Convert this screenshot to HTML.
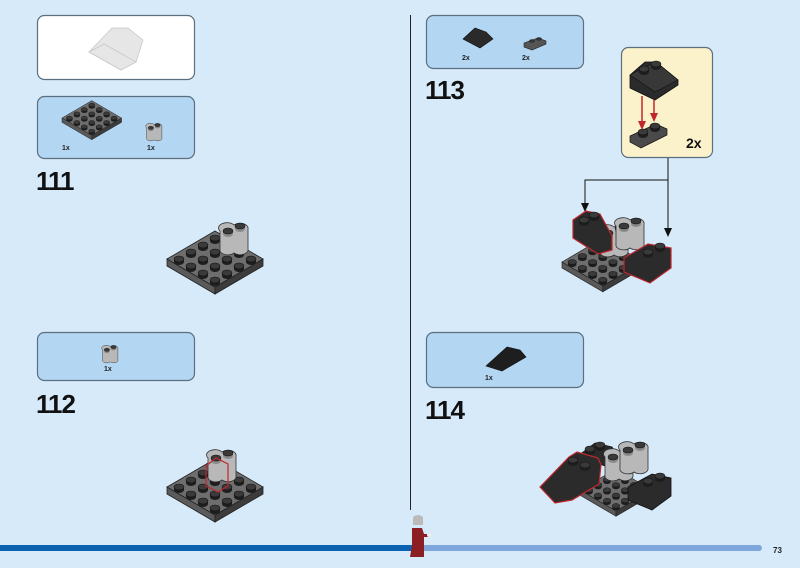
<!DOCTYPE html>
<html><head><meta charset="utf-8"><style>
html,body{margin:0;padding:0;background:#d6eaf9;}
svg{display:block;}
text{font-family:"Liberation Sans",sans-serif;}
</style></head><body>
<svg width="800" height="568" viewBox="0 0 800 568" xmlns="http://www.w3.org/2000/svg">
<defs>
  <g id="stud"><path d="M-5,0 v3 a5,3 0 0 0 10,0 v-3 z" fill="#1e1e1e"/><ellipse cx="0" cy="0" rx="5" ry="3" fill="#3a3a3a" stroke="#111" stroke-width="0.6"/></g>
  <g id="lstud"><path d="M-5,0 v3 a5,3 0 0 0 10,0 v-3 z" fill="#8a8a8a"/><ellipse cx="0" cy="0" rx="5" ry="3" fill="#3a3a3a" stroke="#111" stroke-width="0.6"/></g>
  <g id="plate4">
    <polygon points="0,0 48,28 48,35 0,7" fill="#5a5a5a" stroke="#222" stroke-width="0.8"/>
    <polygon points="48,28 96,0 96,7 48,35" fill="#3c3c3c" stroke="#222" stroke-width="0.8"/>
    <polygon points="0,0 48,-28 96,0 48,28" fill="#6e6e6e" stroke="#222" stroke-width="0.8"/>
  </g>
  <g id="studs4">
    <use href="#stud" x="12" y="0"/><use href="#stud" x="24" y="-7"/><use href="#stud" x="36" y="-14"/><use href="#stud" x="48" y="-21"/>
    <use href="#stud" x="24" y="7"/><use href="#stud" x="36" y="0"/><use href="#stud" x="48" y="-7"/><use href="#stud" x="60" y="-14"/>
    <use href="#stud" x="36" y="14"/><use href="#stud" x="48" y="7"/><use href="#stud" x="60" y="0"/><use href="#stud" x="72" y="-7"/>
    <use href="#stud" x="48" y="21"/><use href="#stud" x="60" y="14"/><use href="#stud" x="72" y="7"/><use href="#stud" x="84" y="0"/>
  </g>
  <g id="round2">
    <path d="M-10,-4 a8,5 0 0 1 14,-6 a8,5 0 0 1 14,4 v20 a8,5 0 0 1 -14,4 a8,5 0 0 1 -14,-2 z" fill="#b8b8b8" stroke="#333" stroke-width="0.8"/>
    <use href="#lstud" x="-2" y="-4"/><use href="#lstud" x="10" y="-9"/>
  </g>
</defs>

<!-- left column -->
<rect x="37.5" y="15.5" width="157" height="64" rx="7" fill="#fff" stroke="#5b6f80" stroke-width="1.2"/>
<g fill="#e6e6e6" stroke="#c8c8c8" stroke-width="0.8">
  <polygon points="89,52 112,28 128,28 143,40 136,62 121,70"/>
  <polygon points="89,52 121,70 136,62 104,44"/>
</g>
<rect x="37.5" y="96.5" width="157" height="62" rx="7" fill="#b3d6f3" stroke="#5b6f80" stroke-width="1.2"/>
<g transform="translate(62,118) scale(0.62)"><use href="#plate4"/><use href="#studs4"/></g>
<g transform="translate(152,130) scale(0.55)"><use href="#round2"/></g>
<text x="62" y="150" font-size="7" font-weight="bold" fill="#222">1x</text>
<text x="147" y="150" font-size="7" font-weight="bold" fill="#222">1x</text>
<text x="36" y="190" font-size="26" font-weight="bold" letter-spacing="-1" fill="#111">111</text>

<g transform="translate(167,259)"><use href="#plate4"/><use href="#studs4"/></g>
<g transform="translate(230,235)"><use href="#round2"/></g>

<rect x="37.5" y="332.5" width="157" height="48" rx="7" fill="#b3d6f3" stroke="#5b6f80" stroke-width="1.2"/>
<g transform="translate(108,352) scale(0.55)"><use href="#round2"/></g>
<text x="104" y="371" font-size="7" font-weight="bold" fill="#222">1x</text>
<text x="36" y="413" font-size="26" font-weight="bold" letter-spacing="-1" fill="#111">112</text>

<g transform="translate(167,487)"><use href="#plate4"/><use href="#studs4"/></g>
<g transform="translate(218,462)"><use href="#round2"/></g>
<path d="M206,466 l10,-8 l12,6 l0,22 l-10,6 l-12,-6 z" fill="none" stroke="#c0272d" stroke-width="1.2"/>

<!-- divider -->
<line x1="410.5" y1="15" x2="410.5" y2="510" stroke="#222" stroke-width="1"/>

<!-- right column -->
<rect x="426.5" y="15.5" width="157" height="53" rx="7" fill="#b3d6f3" stroke="#5b6f80" stroke-width="1.2"/>
<polygon points="463,39 475,28 486,32 493,39 480,48" fill="#2a2a2a" stroke="#111" stroke-width="0.6"/>
<polygon points="524,43 538,38 546,41 546,44 532,50 524,47" fill="#555" stroke="#222" stroke-width="0.6"/>
<ellipse cx="532" cy="41" rx="3" ry="1.8" fill="#333"/><ellipse cx="539" cy="39" rx="3" ry="1.8" fill="#333"/>
<text x="462" y="60" font-size="7" font-weight="bold" fill="#222">2x</text>
<text x="522" y="60" font-size="7" font-weight="bold" fill="#222">2x</text>
<text x="425" y="99" font-size="26" font-weight="bold" letter-spacing="-1" fill="#111">113</text>

<rect x="621.5" y="47.5" width="91" height="110" rx="7" fill="#fbf2cc" stroke="#5b6f80" stroke-width="1.2"/>
<polygon points="630,75 630,88 655,100 678,85 678,80 656,62 645,62" fill="#2b2b2b" stroke="#111" stroke-width="0.8"/>
<polygon points="630,75 645,67 656,62 678,80 655,92" fill="#383838" stroke="#111" stroke-width="0.6"/>
<use href="#stud" x="644" y="69"/><use href="#stud" x="656" y="64"/>
<line x1="642" y1="96" x2="642" y2="124" stroke="#c0272d" stroke-width="1.5"/>
<polygon points="638,121 646,121 642,130" fill="#c0272d"/>
<line x1="654" y1="100" x2="654" y2="116" stroke="#c0272d" stroke-width="1.5"/>
<polygon points="650,113 658,113 654,122" fill="#c0272d"/>
<polygon points="630,136 630,142 641,148 667,135 667,129 656,124" fill="#4a4a4a" stroke="#111" stroke-width="0.7"/>
<use href="#stud" x="643" y="132"/><use href="#stud" x="655" y="126"/>
<text x="686" y="148" font-size="14" font-weight="bold" fill="#111">2x</text>

<polyline points="668,158 668,180 585,180 585,205" fill="none" stroke="#111" stroke-width="1"/>
<polygon points="581,203 589,203 585,212" fill="#111"/>
<line x1="668" y1="180" x2="668" y2="230" stroke="#111" stroke-width="1"/>
<polygon points="664,228 672,228 668,237" fill="#111"/>

<g transform="translate(562,262) scale(0.85)"><use href="#plate4"/><use href="#studs4"/></g>
<g transform="translate(610,237)"><use href="#round2"/></g>
<g transform="translate(626,230)"><use href="#round2"/></g>
<polygon points="573,220 586,211 600,214 612,236 612,250 598,254 573,238" fill="#2b2b2b" stroke="#c0272d" stroke-width="1.2"/>
<use href="#stud" x="584" y="220"/><use href="#stud" x="594" y="215"/>
<polygon points="624,258 648,244 671,248 671,268 650,283 624,272" fill="#2b2b2b" stroke="#c0272d" stroke-width="1.2"/>
<use href="#stud" x="648" y="252"/><use href="#stud" x="660" y="246"/>

<rect x="426.5" y="332.5" width="157" height="55" rx="7" fill="#b3d6f3" stroke="#5b6f80" stroke-width="1.2"/>
<polygon points="486,366 507,347 520,350 526,357 502,371" fill="#1e1e1e" stroke="#111" stroke-width="0.6"/>
<text x="485" y="380" font-size="7" font-weight="bold" fill="#222">1x</text>
<text x="425" y="419" font-size="26" font-weight="bold" letter-spacing="-1" fill="#111">114</text>

<g transform="translate(580,490) scale(0.75)"><use href="#plate4"/><use href="#studs4"/></g>
<polygon points="578,456 595,443 612,447 620,460 608,467" fill="#2b2b2b" stroke="#111" stroke-width="0.8"/>
<use href="#stud" x="590" y="449"/><use href="#stud" x="600" y="445"/>
<g transform="translate(615,461)"><use href="#round2"/></g>
<g transform="translate(630,454)"><use href="#round2"/></g>
<polygon points="628,487 652,474 671,478 671,496 652,510 628,500" fill="#2b2b2b" stroke="#111" stroke-width="0.8"/>
<use href="#stud" x="648" y="481"/><use href="#stud" x="660" y="476"/>
<polygon points="540,487 569,457 577,452 598,458 601,465 599,484 572,500 555,503" fill="#2b2b2b" stroke="#c0272d" stroke-width="1.2"/>
<use href="#stud" x="573" y="460"/><use href="#stud" x="585" y="465"/>

<!-- bottom bar -->
<rect x="0" y="545" width="412" height="6" fill="#0a62b0"/>
<rect x="412" y="545" width="350" height="6" rx="3" fill="#7fa7db"/>
<text x="773" y="553" font-size="8" font-weight="bold" fill="#222">73</text>
<!-- figure -->
<path d="M413,517 q5,-4 10,0 v8 h-10 z" fill="#bbb"/>
<path d="M412,528 h10 l2,6 h6 v3 h-6 l0,20 h-14 l2,-12 z" fill="#8b1f24"/>
<circle cx="429" cy="535" r="2" fill="#eee"/>
</svg>
</body></html>
